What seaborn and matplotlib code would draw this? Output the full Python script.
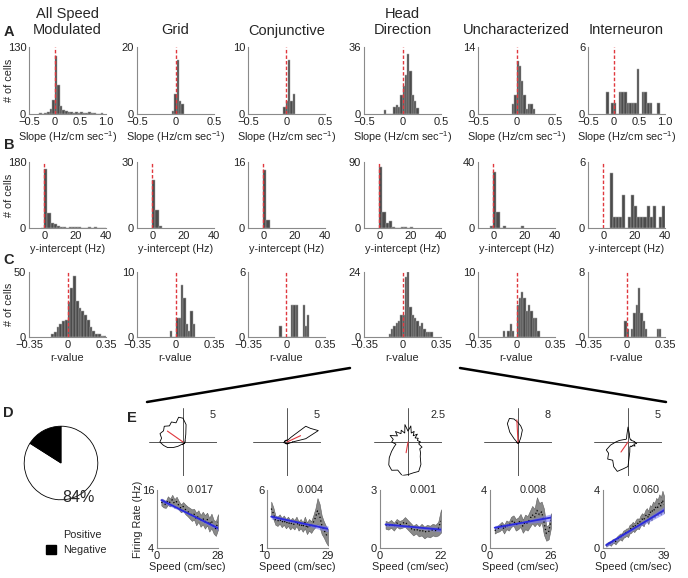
import numpy as np
import pandas as pd
import matplotlib.pyplot as plt
import seaborn as sns
from matplotlib.lines import Line2D
from matplotlib.patches import Patch

sns.set_theme(style="white")
plt.rcParams['font.family'] = ['Liberation Sans', 'DejaVu Sans']
plt.rcParams['mathtext.default'] = 'regular'

W, H = 688, 578
fig = plt.figure(figsize=(W / 100, H / 100), dpi=100)


def px_axes(left, top, width, height, **kw):
    return fig.add_axes([left / W, 1 - (top + height) / H, width / W, height / H], **kw)


# 1. Histogram data: left edge of first bin, bin width, counts per bin
col_titles = ['All Speed\nModulated', 'Grid', 'Conjunctive', 'Head\nDirection', 'Uncharacterized', 'Interneuron']

slope_start = [-0.3, -0.045, -0.04, -0.24, -0.06, -0.15]
slope_width = [0.05, 0.03, 0.03, 0.03, 0.03, 0.05]
slope_counts = [
    [1, 0, 2, 4, 10, 27, 112, 56, 15, 8, 5, 3, 4, 2, 3, 2, 3, 1, 1, 4, 2, 1, 0, 0, 1],
    [1, 6, 16, 4, 3],
    [1, 2, 8, 2, 3],
    [2, 0, 0, 0, 4, 5, 4, 10, 15, 21, 32, 23, 10, 7, 3],
    [2, 4, 11, 10, 7, 4, 1, 2, 2, 1],
    [2, 0, 1, 1, 0, 2, 2, 2, 1, 1, 1, 1, 4, 0, 2, 2, 1, 1, 0, 0, 1],
]
slope_ymax = [130, 20, 10, 36, 14, 6]

icpt_start = [-2, 0, 0, 0, -2, 4]
icpt_width = [2, 2, 2, 2, 2, 2]
icpt_counts = [
    [1, 162, 40, 14, 12, 5, 2, 2, 1, 2, 3, 3, 2, 1, 1, 2, 1, 2, 1, 1, 1],
    [22, 8, 1],
    [14, 2],
    [83, 22, 7, 9, 2, 0, 0, 1, 1, 0, 1],
    [1, 34, 10, 0, 1, 0, 0, 0, 0, 0, 1],
    [5, 1, 1, 1, 3, 0, 1, 3, 2, 1, 1, 1, 2, 1, 2, 0, 1, 2],
]
icpt_ymax = [180, 30, 16, 90, 40, 6]

rval_start = [-0.15, -0.054, -0.064, -0.126, -0.126, -0.021]
rval_width = [0.025, 0.021, 0.021, 0.021, 0.021, 0.021]
rval_counts = [
    [2, 4, 8, 10, 12, 13, 27, 38, 47, 28, 22, 20, 17, 13, 8, 5, 2, 2, 1, 1],
    [1, 0, 0, 3, 3, 8, 6, 2, 1, 4, 2],
    [1, 0, 0, 0, 0, 3, 3, 3, 0, 0, 3, 1, 2],
    [1, 3, 4, 5, 6, 8, 8, 22, 24, 11, 8, 7, 6, 4, 5, 3, 2, 2, 2],
    [1, 0, 1, 2, 1, 0, 5, 6, 7, 6, 4, 5, 4, 3, 3, 1],
    [2, 1, 0, 1, 3, 4, 6, 3, 2, 1, 0, 0, 0, 0, 1, 1],
]
rval_ymax = [50, 10, 6, 24, 10, 8]

# 2. Pie data
pie_labels = ['Positive', 'Negative']
pie_share = [84, 16]

# 3. Example cells: head direction tuning (Hz at 0, 10, ... 350 deg)
hd_angles = np.arange(0, 360, 10)
hd_rmax = [5, 5, 2.5, 8, 5]
hd_radii = [
    [0.3, 0.3, 0.3, 0.4, 0.4, 0.5, 0.7, 1.2, 2.6, 3.5, 3.7, 3.0, 3.4, 3.1, 3.6, 3.3, 3.6, 3.2,
     3.4, 2.9, 2.4, 1.6, 1.0, 0.6, 0.4, 0.3, 0.4, 0.3, 0.3, 0.2, 0.3, 0.3, 0.2, 0.3, 0.3, 0.3],
    [0.8, 2.8, 4.9, 4.0, 3.6, 0.9, 0.4, 0.3, 0.3, 0.3, 0.2, 0.3, 0.3, 0.2, 0.3, 0.3, 0.4, 0.3,
     0.4, 0.5, 0.4, 0.3, 0.3, 0.2, 0.3, 0.3, 0.2, 0.3, 0.3, 0.3, 0.2, 0.3, 0.3, 0.4, 0.4, 0.6],
    [0.9, 0.7, 0.8, 0.6, 0.9, 0.6, 0.9, 0.7, 1.2, 0.8, 1.3, 0.7, 1.0, 0.8, 1.2, 0.9, 1.4, 1.1,
     1.2, 0.9, 1.1, 1.4, 1.8, 2.2, 2.4, 2.2, 2.5, 2.4, 2.3, 2.3, 1.9, 1.4, 1.2, 1.0, 1.1, 0.8],
    [0.3, 0.3, 0.3, 0.4, 0.5, 0.8, 1.4, 3.0, 3.8, 4.6, 5.5, 5.9, 5.0, 3.0, 1.2, 0.6, 0.4, 0.3,
     0.3, 0.3, 0.2, 0.3, 0.3, 0.3, 0.2, 0.3, 0.3, 0.3, 0.2, 0.3, 0.3, 0.2, 0.3, 0.3, 0.3, 0.3],
    [1.0, 0.8, 0.6, 0.5, 0.6, 0.5, 0.6, 0.7, 1.2, 2.2, 1.0, 0.6, 0.5, 0.5, 0.6, 0.7, 0.9, 1.3,
     1.8, 2.6, 3.4, 3.3, 3.9, 3.5, 4.2, 4.6, 4.0, 3.6, 1.5, 0.8, 0.7, 0.9, 0.8, 1.2, 0.9, 1.3],
]
hd_vec_angle = [145, 25, 260, 93, 235]
hd_vec_len = [2.8, 2.2, 0.8, 5.2, 1.8]

# 4. Example cells: firing rate vs running speed (bins of 1 cm/sec from 2)
speed_max = [28, 29, 22, 26, 39]
rate_lims = [(4, 16), (1, 6), (0, 3), (0, 4), (0, 4)]
score_text = ['0.017', '0.004', '0.001', '0.008', '0.060']
rate_mean = [
    [13.5, 13.2, 13.0, 13.8, 13.4, 14.0, 13.2, 13.6, 12.8, 12.2, 12.6, 12.0, 11.6, 11.2, 10.8,
     11.0, 10.0, 10.6, 9.6, 10.2, 9.4, 10.0, 8.8, 9.6, 8.4, 8.0, 9.4],
    [4.4, 4.0, 3.4, 3.3, 3.5, 3.2, 3.4, 3.1, 3.3, 3.0, 3.2, 3.0, 3.3, 2.9, 3.1, 2.8, 3.2, 2.7,
     3.0, 2.8, 3.2, 3.6, 4.2, 3.8, 3.0, 2.6, 2.2, 1.9],
    [1.2, 1.15, 1.25, 1.1, 1.3, 1.2, 1.25, 1.35, 1.2, 1.05, 0.9, 1.0, 0.85, 0.95, 0.8, 0.9,
     0.85, 0.95, 0.9, 1.0, 1.4],
    [1.2, 1.3, 1.4, 1.55, 1.3, 1.6, 1.5, 1.8, 1.9, 1.6, 1.7, 1.9, 1.5, 1.8, 1.7, 2.0, 2.3, 2.1,
     2.6, 2.3, 2.5, 1.8, 1.0, 1.1, 1.9],
    [0.2, 0.3, 0.35, 0.3, 0.45, 0.5, 0.45, 0.6, 0.7, 0.8, 0.75, 0.95, 1.0, 1.1, 1.05, 1.3, 1.35,
     1.5, 1.4, 1.6, 1.7, 1.65, 1.9, 2.0, 1.9, 2.2, 2.3, 2.1, 2.5, 2.4, 2.7, 2.6, 2.9, 2.8, 3.1,
     2.9, 3.3, 3.0],
]
rate_sem = [
    [0.7, 0.8, 0.7, 0.9, 0.8, 1.0, 0.9, 1.0, 0.9, 0.8, 0.9, 1.0, 1.0, 1.1, 1.2, 1.1, 1.3, 1.2,
     1.2, 1.3, 1.4, 1.3, 1.4, 1.5, 1.4, 1.5, 1.6],
    [0.6, 0.5, 0.4, 0.4, 0.4, 0.4, 0.4, 0.4, 0.4, 0.4, 0.4, 0.4, 0.4, 0.4, 0.4, 0.4, 0.5, 0.5,
     0.5, 0.5, 0.6, 0.8, 1.1, 1.0, 0.8, 0.7, 0.7, 0.7],
    [0.2, 0.2, 0.2, 0.2, 0.2, 0.2, 0.2, 0.25, 0.25, 0.25, 0.25, 0.25, 0.25, 0.3, 0.3, 0.3, 0.3,
     0.3, 0.3, 0.35, 0.6],
    [0.2, 0.2, 0.25, 0.25, 0.3, 0.3, 0.3, 0.35, 0.35, 0.4, 0.4, 0.45, 0.45, 0.5, 0.5, 0.55, 0.6,
     0.6, 0.9, 0.8, 0.7, 0.9, 0.5, 0.5, 0.5],
    [0.1, 0.1, 0.1, 0.15, 0.15, 0.15, 0.2, 0.2, 0.2, 0.2, 0.25, 0.25, 0.25, 0.25, 0.3, 0.3, 0.3,
     0.3, 0.3, 0.35, 0.35, 0.35, 0.35, 0.4, 0.4, 0.4, 0.45, 0.45, 0.45, 0.5, 0.5, 0.5, 0.55,
     0.55, 0.6, 0.6, 0.65, 0.6],
]
reg_start = [13.9, 3.7, 1.22, 1.4, 0.2]
reg_end = [8.1, 2.65, 0.95, 2.1, 2.6]
reg_ci = [[0.45, 0.2, 0.45], [0.2, 0.1, 0.25], [0.1, 0.05, 0.12], [0.15, 0.08, 0.25], [0.15, 0.1, 0.25]]


# ---------- layout ----------
col_left = [29, 137, 248, 364, 478, 588]
col_w = 77
row_top = [47, 162, 272]
row_h = [67, 66, 65]

spine_col = '#8a8a8a'
bar_col = '#4b4b4b'
red = '#e0383e'
tick_fs = 8
lab_fs = 7.8


def style_axes(ax):
    sns.despine(ax=ax)
    for s in ['left', 'bottom']:
        ax.spines[s].set_color(spine_col)
        ax.spines[s].set_linewidth(0.8)
    ax.tick_params(length=0, labelsize=tick_fs, pad=2, colors='#222222')
    ax.set_ylabel('')
    ax.set_xlabel('')


def draw_hist(ax, start, width, counts, ymax, xlim, xticks, xticklabels, xlabel):
    counts = np.array(counts, dtype=float)
    edges = start + width * np.arange(len(counts) + 1)
    centers = edges[:-1] + width / 2
    df = pd.DataFrame({'value': centers, 'n': counts})
    sns.histplot(data=df, x='value', weights='n', bins=edges.tolist(), ax=ax, color=bar_col,
                 edgecolor='#a8a8a8', linewidth=0.35, alpha=1)
    ax.axvline(0, color=red, ls=(0, (2.5, 1.5)), lw=1)
    ax.set_xlim(xlim)
    ax.set_ylim(0, ymax)
    style_axes(ax)
    ax.set_yticks([0, ymax])
    ax.set_xticks(xticks)
    ax.set_xticklabels(xticklabels)
    ax.set_xlabel(xlabel, fontsize=lab_fs, labelpad=2)


for i in range(6):
    # row A: slope
    ax = px_axes(col_left[i], row_top[0], col_w, row_h[0])
    if i in (0, 5):
        xl, xt, xtl = (-0.5, 1.0), [-0.5, 0, 0.5, 1.0], ['\u22120.5', '0', '0.5', '1.0']
    else:
        xl, xt, xtl = (-0.5, 0.5), [-0.5, 0, 0.5], ['\u22120.5', '0', '0.5']
    draw_hist(ax, slope_start[i], slope_width[i], slope_counts[i], slope_ymax[i],
              xl, xt, xtl, 'Slope (Hz/cm sec$^{-1}$)')
    ax.set_title(col_titles[i], fontsize=10.5, pad=9, linespacing=1.2)
    if i == 0:
        ax.set_ylabel('# of cells', fontsize=lab_fs)
        ax.yaxis.set_label_coords(-0.2, 0.5)

    # row B: y-intercept
    ax = px_axes(col_left[i], row_top[1], col_w, row_h[1])
    draw_hist(ax, icpt_start[i], icpt_width[i], icpt_counts[i], icpt_ymax[i],
              (-10, 40), [0, 20, 40], ['0', '20', '40'], 'y-intercept (Hz)')
    if i == 0:
        ax.set_ylabel('# of cells', fontsize=lab_fs)
        ax.yaxis.set_label_coords(-0.2, 0.5)

    # row C: r-value
    ax = px_axes(col_left[i], row_top[2], col_w, row_h[2])
    draw_hist(ax, rval_start[i], rval_width[i], rval_counts[i], rval_ymax[i],
              (-0.35, 0.35), [-0.35, 0, 0.35], ['\u22120.35', '0', '0.35'], 'r-value')
    if i == 0:
        ax.set_ylabel('# of cells', fontsize=lab_fs)
        ax.yaxis.set_label_coords(-0.2, 0.5)

# ---------- D: pie ----------
ax = px_axes(15, 417, 92, 92)
ax.pie(pie_share, colors=['white', 'black'], startangle=90, counterclock=False,
       wedgeprops=dict(edgecolor='black', linewidth=0.6))
ax.set_aspect('equal')
fig.text(78 / W, 1 - 497 / H, '84%', fontsize=11.5, ha='center', va='center')
fig.legend(handles=[Patch(facecolor='white', edgecolor='white'), Patch(facecolor='black', edgecolor='black')],
           labels=pie_labels, loc='upper left', bbox_to_anchor=(36 / W, 1 - 520 / H), frameon=False,
           fontsize=lab_fs, handlelength=0.9, handleheight=0.9, handletextpad=0.7, labelspacing=0.45)

# ---------- E: polar tuning ----------
polar_cx = [183, 287, 408, 518, 628]
for i in range(5):
    pax = px_axes(polar_cx[i] - 34, 442 - 34, 68, 68, projection='polar')
    rmax = hd_rmax[i]
    for a in [0, 90, 180, 270]:
        pax.plot([np.deg2rad(a), np.deg2rad(a)], [0, rmax], color='#555555', lw=0.7)
    th = np.deg2rad(np.append(hd_angles, hd_angles[0]))
    rr = np.append(hd_radii[i], hd_radii[i][0])
    pax.plot(th, rr, color='black', lw=0.6)
    vec = np.deg2rad(hd_vec_angle[i])
    pax.plot([vec, vec], [0, hd_vec_len[i]], color=red, lw=0.8)
    pax.set_ylim(0, rmax)
    pax.grid(False)
    pax.set_xticks([])
    pax.set_yticks([])
    pax.spines['polar'].set_visible(False)
    pax.patch.set_alpha(0)
    fig.text((polar_cx[i] + 30) / W, 1 - 415 / H, str(rmax), fontsize=lab_fs, ha='center', va='center')

# ---------- E: rate vs speed ----------
line_left = [157, 267, 380, 490, 603]
for i in range(5):
    ax = px_axes(line_left[i], 490, 61, 58)
    mean = np.array(rate_mean[i])
    sem = np.array(rate_sem[i])
    speed = np.arange(2, 2 + len(mean))
    ax.fill_between(speed, mean - sem, mean + sem, color='#8a8a8a', edgecolor='#5e5e5e', lw=0.4)
    sns.lineplot(x=speed, y=mean, ax=ax, color='black', lw=0.9, ls=(0, (1, 2)))
    rx = [2, (2 + speed_max[i]) / 2, speed_max[i]]
    ry = np.array([reg_start[i], (reg_start[i] + reg_end[i]) / 2, reg_end[i]])
    ci = np.array(reg_ci[i])
    ax.fill_between(rx, ry - ci, ry + ci, color='#6f6ff5', alpha=0.55, lw=0)
    sns.lineplot(x=rx, y=ry, ax=ax, color='#2b2bdc', lw=1.3)
    lo, hi = rate_lims[i]
    ax.set_xlim(0, speed_max[i])
    ax.set_ylim(lo, hi)
    style_axes(ax)
    ax.set_xticks([0, speed_max[i]])
    ax.set_yticks([lo, hi])
    ax.set_xlabel('Speed (cm/sec)', fontsize=lab_fs, labelpad=1)
    ax.text(0.7, 1.0, score_text[i], transform=ax.transAxes, fontsize=lab_fs, ha='center', va='center')
    if i == 0:
        ax.set_ylabel('Firing Rate (Hz)', fontsize=lab_fs)
        ax.yaxis.set_label_coords(-0.23, 0.5)

# fan lines from head direction column to panel E
fig.add_artist(Line2D([147 / W, 350 / W], [1 - 402 / H, 1 - 368 / H], color='black', lw=1.8))
fig.add_artist(Line2D([460 / W, 666 / W], [1 - 368 / H, 1 - 402 / H], color='black', lw=1.8))

# panel letters
for letter, lx, ly in [('A', 9, 32), ('B', 9, 145), ('C', 9, 260), ('D', 8, 413), ('E', 132, 418)]:
    fig.text(lx / W, 1 - ly / H, letter, fontsize=10.5, fontweight='bold', ha='center', va='center', zorder=10)

fig.savefig('out.png', dpi=100)
